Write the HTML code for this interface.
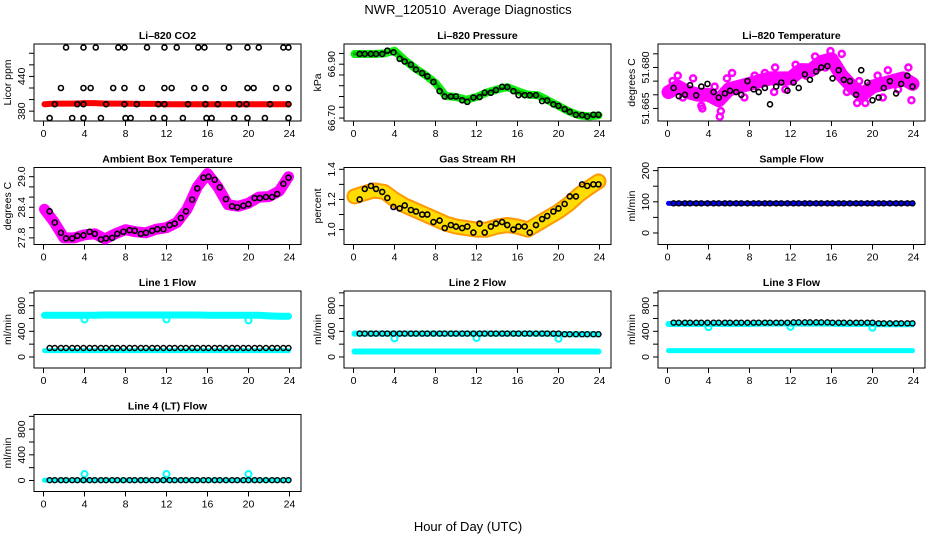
<!DOCTYPE html>
<html><head><meta charset="utf-8"><style>
html,body{margin:0;padding:0;background:#fff;}
svg{display:block;font-family:"Liberation Sans",sans-serif;}
</style></head><body>
<svg id="chart" width="936" height="540" viewBox="0 0 936 540" xmlns="http://www.w3.org/2000/svg">
<rect width="936" height="540" fill="#fff"/>
<text x="468" y="14" text-anchor="middle" font-size="13">NWR_120510&#160; Average Diagnostics</text>
<text x="468" y="531" text-anchor="middle" font-size="13">Hour of Day (UTC)</text>
</svg>
<script>
const xTicks = [0,4,8,12,16,20,24];
const blackHours = [0.6,1.1,1.7,2.2,2.8,3.3,3.9,4.5,5.0,5.6,6.1,6.7,7.2,7.8,8.4,8.9,9.5,10.0,10.6,11.1,11.7,12.3,12.8,13.4,13.9,14.5,15.0,15.6,16.1,16.7,17.2,17.8,18.4,18.9,19.5,20.0,20.6,21.1,21.7,22.3,22.8,23.4,23.9];
const bandHours = [0.1,1,2,3,4,5,6,7,8,9,10,11,12,13,14,15,16,17,18,19,20,21,22,23,23.9];

// CO2
const co2BlackX = [1.1,3.3,3.9,6.1,7.9,9.1,11.2,11.8,14.1,15.8,17,19.1,19.8,22.1,23.9, 2.2,3.9,5.1,7.3,7.9,10.1,11.8,13,15.1,15.7,18.1,19.9,21,23.4,23.9, 1.7,3.9,4.6,6.8,7.9,9.6,11.8,12.5,14.7,15.8,17.6,19.9,20.5,22.7,23.9, 0.6,2.8,3.9,5.6,8,8.5,10.7,11.8,13.6,15.9,16.4,18.6,19.9,21.6,23.9];
const co2BlackY = [392,392,392,392,392,392,392,392,392,392,392,392,392,392,392, 490,490,490,490,490,490,490,490,490,490,490,490,490,490,490, 420,420,420,420,420,420,420,420,420,420,420,420,420,420,420, 368,368,368,368,368,368,368,368,368,368,368,368,368,368,368];
const co2Red = [392,393,393,393,394,394,393,393,393,392.5,392.5,392.5,392,392,392,392,392,392,392,392,392,392,392,392,392];

// Pressure
const presBlack = [66.938,66.938,66.938,66.938,66.938,66.950,66.944,66.920,66.910,66.898,66.880,66.867,66.855,66.834,66.800,66.780,66.780,66.780,66.766,66.760,66.776,66.778,66.794,66.794,66.804,66.816,66.815,66.800,66.785,66.785,66.785,66.785,66.763,66.765,66.751,66.745,66.733,66.723,66.712,66.711,66.706,66.712,66.712];
const presGreen = [66.938,66.938,66.938,66.940,66.950,66.915,66.885,66.860,66.830,66.782,66.778,66.768,66.778,66.795,66.806,66.815,66.800,66.787,66.785,66.765,66.745,66.725,66.710,66.706,66.710];

// Li-820 temperature
const tempBlack = [51.6725,51.6695,51.6700,51.6735,51.6698,51.6730,51.6740,51.6710,51.6690,51.6705,51.6715,51.6710,51.6700,51.6750,51.6720,51.6710,51.6725,51.6665,51.6730,51.6745,51.6715,51.6745,51.6725,51.6775,51.6755,51.6785,51.6800,51.6805,51.6760,51.6790,51.6755,51.6750,51.6700,51.6790,51.6745,51.6680,51.6690,51.6725,51.6750,51.6705,51.6740,51.6770,51.6730];
const tempMagenta = [51.671,51.673,51.671,51.670,51.670,51.668,51.672,51.673,51.674,51.675,51.676,51.676,51.676,51.679,51.679,51.682,51.683,51.677,51.673,51.670,51.673,51.674,51.675,51.676,51.674];
const tempScatterX = [0.5,1.5,2.5,3.4,4.6,5.2,5.8,6.3,7.5,8.5,9.5,10.5,11.5,12.5,13.5,14.4,15.4,15.9,16.5,17.5,18.5,19.3,20.5,21.5,22.5,23.5,3.3,10.4,13.1,17.0,21.0,23.8,5.1,1.0,18.7];
const tempScatterY = [51.675,51.669,51.676,51.665,51.673,51.664,51.676,51.678,51.669,51.677,51.678,51.680,51.672,51.681,51.677,51.684,51.680,51.686,51.680,51.671,51.667,51.667,51.677,51.679,51.672,51.680,51.666,51.671,51.680,51.685,51.669,51.668,51.662,51.677,51.675];

// Ambient box temperature
const ambBlack = [28.32,28.10,27.90,27.79,27.79,27.84,27.85,27.92,27.88,27.77,27.79,27.80,27.88,27.92,27.95,27.94,27.88,27.90,27.94,27.97,27.97,28.05,28.08,28.19,28.32,28.55,28.77,28.98,29.00,28.94,28.79,28.56,28.42,28.40,28.43,28.46,28.58,28.58,28.60,28.60,28.66,28.86,28.98];
const ambMagenta = [28.36,28.12,27.80,27.80,27.86,27.88,27.78,27.88,27.96,27.92,27.90,27.97,28.00,28.10,28.36,28.80,29.06,28.80,28.45,28.42,28.48,28.60,28.61,28.72,29.00];

// Gas stream RH
const rhBlack = [1.20,1.27,1.29,1.27,1.25,1.21,1.15,1.14,1.16,1.13,1.12,1.10,1.10,1.05,1.06,1.01,1.03,1.02,1.01,1.02,0.98,1.04,0.98,1.02,1.04,1.05,1.03,1.00,1.02,1.02,0.98,1.03,1.07,1.09,1.12,1.14,1.17,1.22,1.22,1.30,1.29,1.30,1.30];
const rhOrange = [1.22,1.24,1.26,1.25,1.20,1.16,1.13,1.10,1.07,1.04,1.02,1.01,1.00,1.00,1.02,1.03,1.02,1.00,1.04,1.08,1.12,1.17,1.23,1.28,1.32];

// Sample flow
const sampleBlack = [95,95,95,95,95,95,95,95,95,95,95,95,95,95,95,95,95,95,95,95,95,95,95,95,95,95,95,95,95,95,95,95,95,95,95,95,95,95,95,95,95,95,95];
const sampleBlue = [95,95,95,95,95,95,95,95,95,95,95,95,95,95,95,95,95,95,95,95,95,95,95,95,95];

// Line flows
const line1Black = [140,140,140,140,140,140,140,140,140,140,140,140,140,140,140,140,140,140,140,140,140,140,140,140,140,140,140,140,140,140,140,140,140,140,140,140,140,140,140,140,140,140,140];
const line1CyanHigh = [650,650,650,650,650,650,655,655,655,655,655,655,655,655,655,655,650,650,650,650,650,650,640,635,635];
const line1CyanLow = [100,100,100,100,100,100,100,100,100,100,100,100,100,100,100,100,100,100,100,100,100,100,100,100,100];
const line2Black = [365,365,365,365,365,365,365,365,365,365,365,365,365,365,365,365,365,365,365,365,365,365,365,365,365,365,365,365,365,365,365,365,365,365,365,365,355,355,355,355,355,355,355];
const line2CyanHigh = [365,365,365,365,365,365,365,365,365,365,365,365,365,365,365,365,365,365,365,365,355,355,355,355,355];
const line2CyanLow = [85,85,85,85,85,85,85,85,85,85,85,85,85,85,85,85,85,85,85,85,85,85,85,85,85];
const line3Black = [535,535,535,535,535,535,535,535,535,535,535,535,535,535,535,535,535,535,535,535,535,540,540,540,540,540,540,540,535,535,535,535,535,535,535,535,525,525,525,525,525,525,525];
const line3CyanHigh = [515,515,515,515,515,515,515,515,515,520,520,520,520,520,520,520,520,515,515,515,515,510,510,510,510];
const line3CyanLow = [100,100,100,100,100,100,100,100,100,100,100,100,100,100,100,100,100,100,100,100,100,100,100,100,100];
const line4Black = [5,5,5,5,5,5,5,5,5,5,5,5,5,5,5,5,5,5,5,5,5,5,5,5,5,5,5,5,5,5,5,5,5,5,5,5,5,5,5,5,5,5,5];
const line4Cyan = [5,5,5,5,5,5,5,5,5,5,5,5,5,5,5,5,5,5,5,5,5,5,5,5,5];
const outlierHours = [4,12,20];
const line1Outliers = [585,585,570];
const line2Outliers = [290,295,285];
const line3Outliers = [465,470,455];
const line4Outliers = [100,100,100];

const NS = "http://www.w3.org/2000/svg";
const svg = document.getElementById('chart');
const colLeft = [34,344,658], rowTop = [44,167.5,291,414.5], W = 267, H = 77;

function mk(tag, attrs, parent){
  const e = document.createElementNS(NS, tag);
  for (const k in attrs) e.setAttribute(k, attrs[k]);
  (parent || svg).appendChild(e);
  return e;
}

function panel(name, col, row, title, ylab, lo, hi, yTicks, yLabels){
  const L = colLeft[col], T = rowTop[row];
  const g = mk('g', {});
  
  
  const xs = h => L + 9.5 + h / 24 * 246;
  const ys = v => T + H - (v - lo) / (hi - lo) * H;
  const t = mk('text', {x: L + W/2, y: T - 5, 'text-anchor':'middle', 'font-size':10.5, 'font-weight':'bold'}, g);
  t.textContent = title;
  
  
  const box = mk('rect', {x:L, y:T, width:W, height:H, fill:'none', stroke:'#000', 'stroke-width':1}, g);
  
  
  const xa = mk('g', {}, g);
  
  
  xTicks.forEach(v => {
    mk('line', {x1:xs(v), x2:xs(v), y1:T+H, y2:T+H+5, stroke:'#000'}, xa);
    const tl = mk('text', {x:xs(v), y:T+H+16, 'text-anchor':'middle', 'font-size':10.5}, xa);
    tl.textContent = v;
  });
  const ya = mk('g', {}, g);
  
  
  yTicks.forEach(v => {
    mk('line', {x1:L-5, x2:L, y1:ys(v), y2:ys(v), stroke:'#000'}, ya);
  });
  yLabels.forEach(v => {
    const tl = mk('text', {x:0, y:0, 'text-anchor':'middle', 'font-size':10.5, transform:`translate(${L-9},${ys(v)}) rotate(-90)`}, ya);
    tl.textContent = v;
  });
  const yt = mk('text', {x:0, y:0, 'text-anchor':'middle', 'font-size':10.5, transform:`translate(${L-23},${T+H/2}) rotate(-90)`}, g);
  yt.textContent = ylab;
  
  
  const clip = mk('g', {}, g);
  return {g: clip, xs, ys};
}

function band(p, name, hours, vals, color, width, extra){
  const pts = hours.map((h,i) => p.xs(h).toFixed(1) + ',' + p.ys(vals[i]).toFixed(1)).join(' ');
  const pl = mk('polyline', Object.assign({points:pts, fill:'none', stroke:color, 'stroke-width':width, 'stroke-linejoin':'round', 'stroke-linecap':'round'}, extra||{}), p.g);
  
  
}
function points(p, name, hours, vals, color, r, sw){
  const gg = mk('g', {}, p.g);
  
  
  hours.forEach((h,i) => {
    mk('circle', {cx:p.xs(h), cy:p.ys(vals[i]), r:r||2.5, fill:'none', stroke:color, 'stroke-width':sw||1.6}, gg);
  });
}

// Row 1
let p = panel('co2', 0, 0, 'Li\u2013820 CO2', 'Licor ppm', 363, 496, [380,400,420,440,460,480], [380,440]);
band(p, 'co2-red-band', bandHours, co2Red, '#f00', 6);
points(p, 'co2-black-points', co2BlackX, co2BlackY, '#000');

p = panel('pressure', 1, 0, 'Li\u2013820 Pressure', 'kPa', 66.689, 66.975, [66.70,66.74,66.78,66.82,66.86,66.90,66.94], ['66.70','66.90']);
band(p, 'pressure-green-band', bandHours, presGreen, '#1e1', 8);
band(p, 'pressure-dark-green-band', bandHours, presGreen, '#0a0', 3, {'stroke-dasharray':'2 2'});
points(p, 'pressure-black-points', blackHours, presBlack, '#000');

p = panel('li820-temp', 2, 0, 'Li\u2013820 Temperature', 'degrees C', 51.6604, 51.6886, [51.665,51.670,51.675,51.680,51.685], ['51.665','51.680']);
band(p, 'temp-magenta-band', bandHours, tempMagenta, '#f0f', 14);
points(p, 'temp-magenta-scatter', tempScatterX, tempScatterY, '#f0f', 3, 2.5);
points(p, 'temp-black-points', blackHours, tempBlack, '#000');

// Row 2
p = panel('ambient', 0, 1, 'Ambient Box Temperature', 'degrees C', 27.67, 29.18, [27.8,28.0,28.2,28.4,28.6,28.8,29.0], ['27.8','28.4','29.0']);
band(p, 'ambient-magenta-band', bandHours, ambMagenta, '#f0f', 11);
points(p, 'ambient-black-points', blackHours, ambBlack, '#000');

p = panel('rh', 1, 1, 'Gas Stream RH', 'percent', 0.901, 1.412, [1.0,1.1,1.2,1.3,1.4], ['1.0','1.2','1.4']);
band(p, 'rh-orange-band', bandHours, rhOrange, '#f90', 16);
band(p, 'rh-yellow-band', bandHours, rhOrange, '#fd0', 12, {'stroke-dasharray':'1.5 2.5'});
points(p, 'rh-black-points', blackHours, rhBlack, '#000');

p = panel('sample-flow', 2, 1, 'Sample Flow', 'ml/min', -37, 210, [0,50,100,150,200], [0,100,200]);
band(p, 'sample-blue-band', bandHours, sampleBlue, '#00f', 5);
points(p, 'sample-black-points', blackHours, sampleBlack, '#000', 2.5, 1.4);

// Row 3/4 flows
const fTicks = [0,200,400,600,800,1000], fLabels = [0,400,800];
p = panel('line1-flow', 0, 2, 'Line 1 Flow', 'ml/min', -172, 1029, fTicks, fLabels);
band(p, 'line1-cyan-high', bandHours, line1CyanHigh, '#0ff', 7);
band(p, 'line1-cyan-low', bandHours, line1CyanLow, '#0ff', 5);
points(p, 'line1-cyan-outliers', outlierHours, line1Outliers, '#0ff', 3, 2);
points(p, 'line1-black-points', blackHours, line1Black, '#000', 2.5, 1.4);

p = panel('line2-flow', 1, 2, 'Line 2 Flow', 'ml/min', -172, 1029, fTicks, fLabels);
band(p, 'line2-cyan-high', bandHours, line2CyanHigh, '#0ff', 6);
band(p, 'line2-cyan-low', bandHours, line2CyanLow, '#0ff', 6);
points(p, 'line2-cyan-outliers', outlierHours, line2Outliers, '#0ff', 3, 2);
points(p, 'line2-black-points', blackHours, line2Black, '#000', 2.5, 1.4);

p = panel('line3-flow', 2, 2, 'Line 3 Flow', 'ml/min', -172, 1029, fTicks, fLabels);
band(p, 'line3-cyan-high', bandHours, line3CyanHigh, '#0ff', 6);
band(p, 'line3-cyan-low', bandHours, line3CyanLow, '#0ff', 5);
points(p, 'line3-cyan-outliers', outlierHours, line3Outliers, '#0ff', 3, 2);
points(p, 'line3-black-points', blackHours, line3Black, '#000', 2.5, 1.4);

p = panel('line4-flow', 0, 3, 'Line 4 (LT) Flow', 'ml/min', -172, 1029, fTicks, fLabels);
band(p, 'line4-cyan', bandHours, line4Cyan, '#0ff', 5);
points(p, 'line4-cyan-outliers', outlierHours, line4Outliers, '#0ff', 3, 2);
points(p, 'line4-black-points', blackHours, line4Black, '#000', 2.5, 1.4);
</script>
</body></html>
